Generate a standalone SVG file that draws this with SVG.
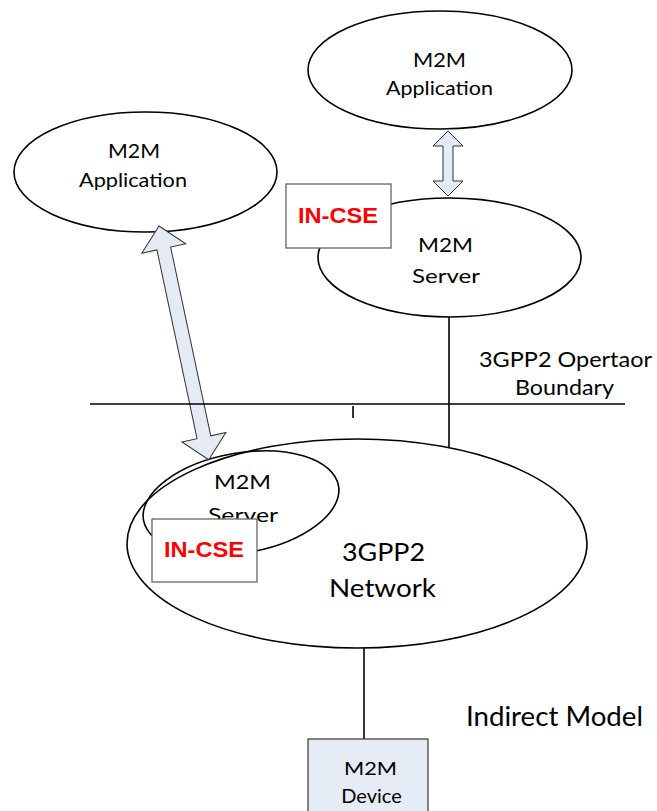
<svg xmlns="http://www.w3.org/2000/svg" width="657" height="811" viewBox="0 0 657 811">
<style>
.ell{fill:#fff;stroke:#000;stroke-width:1.6}
.ln{stroke:#000;stroke-width:1.6;fill:none}
.t{font-family:Lato,"Open Sans","Liberation Sans",sans-serif;fill:#000}
.cse{fill:#fff;stroke:#666;stroke-width:1.3}
.cset{font-family:"Liberation Sans",Arial,sans-serif;font-weight:bold;fill:#ff0000;font-size:22px}
.arr{fill:#e4ebf5;stroke:#333;stroke-width:1}
</style>
<rect width="657" height="811" fill="#fff"/>
<g id="network">
<ellipse class="ell" cx="357" cy="543.5" rx="230" ry="104.5"/>
<text class="t" x="342" y="561" font-size="25" textLength="83" lengthAdjust="spacingAndGlyphs">3GPP2</text>
<text class="t" x="329" y="597" font-size="25" textLength="107" lengthAdjust="spacingAndGlyphs">Network</text>
</g>
<g id="server-lower">
<ellipse class="ln" cx="241" cy="503" rx="99" ry="50" transform="rotate(-10 241 503)"/>
<text class="t" x="214" y="489" font-size="20" textLength="57" lengthAdjust="spacingAndGlyphs">M2M</text>
<text class="t" x="208" y="522" font-size="20" textLength="70" lengthAdjust="spacingAndGlyphs">Server</text>
</g>
<g id="app-top">
<ellipse class="ell" cx="440" cy="70" rx="132" ry="59"/>
<text class="t" x="413" y="66.5" font-size="20" textLength="53" lengthAdjust="spacingAndGlyphs">M2M</text>
<text class="t" x="386" y="95" font-size="20" textLength="107" lengthAdjust="spacingAndGlyphs">Application</text>
</g>
<g id="app-left">
<ellipse class="ell" cx="145.5" cy="172" rx="131.5" ry="60"/>
<text class="t" x="108" y="158" font-size="20" textLength="52" lengthAdjust="spacingAndGlyphs">M2M</text>
<text class="t" x="79" y="187" font-size="20" textLength="108" lengthAdjust="spacingAndGlyphs">Application</text>
</g>
<g id="server-top">
<ellipse class="ell" cx="449.5" cy="257.5" rx="131.5" ry="59.5"/>
<text class="t" x="418" y="252" font-size="20" textLength="55" lengthAdjust="spacingAndGlyphs">M2M</text>
<text class="t" x="412" y="283" font-size="20" textLength="68" lengthAdjust="spacingAndGlyphs">Server</text>
</g>
<g id="connectors">
<line class="ln" x1="449" y1="317" x2="449" y2="448"/>
<line class="ln" x1="364" y1="648" x2="364" y2="739"/>
<polygon class="arr" points="448,131 463,146 453,146 453,181 463,181 448,196 433,181 443,181 443,146 433,146"/>
<polygon class="arr" transform="translate(159 226) rotate(78)" points="0,0 23,-22.5 23,-7 216,-7 216,-22.5 239,0 216,22.5 216,7 23,7 23,22.5"/>
<line class="ln" x1="90" y1="404" x2="625" y2="404"/>
<line class="ln" x1="353" y1="406" x2="353" y2="418"/>
</g>
<g id="in-cse-top">
<rect class="cse" x="286" y="184" width="105" height="64"/>
<text class="cset" x="298" y="223" textLength="80" lengthAdjust="spacingAndGlyphs">IN-CSE</text>
</g>
<g id="in-cse-lower">
<rect class="cse" x="152" y="519" width="105" height="63"/>
<text class="cset" x="164" y="557" textLength="80" lengthAdjust="spacingAndGlyphs">IN-CSE</text>
</g>
<g id="boundary-label">
<text class="t" x="479" y="367" font-size="21" textLength="173" lengthAdjust="spacingAndGlyphs">3GPP2 Opertaor</text>
<text class="t" x="515" y="395" font-size="21" textLength="99" lengthAdjust="spacingAndGlyphs">Boundary</text>
</g>
<g id="model-label">
<text class="t" x="466" y="726" font-size="26" textLength="177" lengthAdjust="spacingAndGlyphs">Indirect Model</text>
</g>
<g id="device">
<rect x="308" y="739" width="120" height="80" fill="#e6ecf6" stroke="#444" stroke-width="1.3"/>
<text class="t" x="344" y="775" font-size="18" textLength="53" lengthAdjust="spacingAndGlyphs">M2M</text>
<text class="t" x="371.5" y="803" font-size="20" text-anchor="middle">Device</text>
</g>
</svg>
